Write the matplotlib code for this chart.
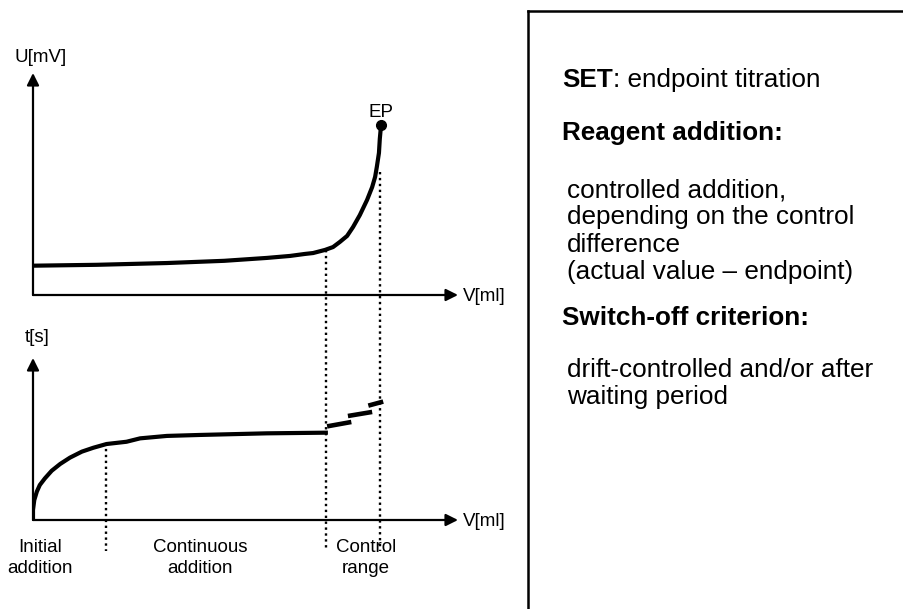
import matplotlib
matplotlib.use('Agg')
import matplotlib.pyplot as plt
from matplotlib.lines import Line2D

plt.rcParams['font.family'] = ['Liberation Sans', 'DejaVu Sans']

# titration curve U = f(V) (arbitrary units)
v_pot = [0.0, 1.5, 3.15, 4.5, 5.5, 6.05, 6.4, 6.59, 6.87, 7.06, 7.22, 7.39,
         7.53, 7.69, 7.86, 7.98, 8.05, 8.09, 8.14, 8.16, 8.19]
u_pot = [13.2, 13.6, 14.4, 15.4, 16.7, 17.6, 18.5, 18.9, 20.3, 21.6, 23.9, 26.6,
         30.6, 36.0, 42.8, 48.6, 53.2, 57.7, 64.0, 70.3, 76.6]

# time per dosing step t = f(V)
v_time = [0.0, 0.0, 0.03, 0.09, 0.16, 0.28, 0.44, 0.64, 0.87, 1.15, 1.42, 1.73,
          2.2, 2.52, 3.15, 3.93, 5.5, 6.89]
t_time = [0.0, 6.2, 12.3, 17.5, 21.6, 25.7, 30.4, 34.6, 38.5, 42.2, 44.6, 46.9,
          48.3, 50.4, 51.9, 52.5, 53.5, 53.9]

# control range: single dosing steps
step_v = [(6.92, 7.49), (7.41, 7.98), (7.89, 8.24)]
step_t = [(57.8, 60.5), (64.2, 66.7), (70.6, 73.1)]

ep_v, ep_u = 8.19, 76.6
phase_bounds = [1.72, 6.9, 8.17]
phase_names = ['Initial\naddition', 'Continuous\naddition', 'Control\nrange']

W, H = 904, 609


def px(x, y):
    return x / W, 1 - y / H


fig = plt.figure(figsize=(W / 100, H / 100), dpi=100)

ax1 = fig.add_axes([33 / W, 1 - 295 / H, 425 / W, 222 / H])
ax2 = fig.add_axes([33 / W, 1 - 520 / H, 425 / W, 162 / H])

for ax in (ax1, ax2):
    ax.set_xlim(0, 10)
    ax.set_ylim(0, 100)
    ax.axis('off')
    arrow = dict(arrowstyle='-|>', lw=1.6, color='black', mutation_scale=18,
                 shrinkA=0, shrinkB=0)
    ax.annotate('', xy=(1, 0), xytext=(0, 0), xycoords='axes fraction',
                arrowprops=arrow, annotation_clip=False)
    ax.annotate('', xy=(0, 1), xytext=(0, 0), xycoords='axes fraction',
                arrowprops=arrow, annotation_clip=False)

# top: potential curve
ax1.plot(v_pot, u_pot, color='black', lw=3, solid_capstyle='round',
         solid_joinstyle='round')
ax1.plot(ep_v, ep_u, 'o', color='black', ms=7)
ax1.text(ep_v, ep_u + 2, 'EP', ha='center', va='bottom', fontsize=13.5)

# bottom: dosing time
ax2.plot(v_time, t_time, color='black', lw=3, solid_joinstyle='round')
for sv, st in zip(step_v, step_t):
    ax2.plot(sv, st, color='black', lw=3.3, solid_capstyle='butt')

# dotted phase boundaries (figure level, they cross both panels)
dot_spans = [(443, 551), (250, 551), (172, 551)]
for vb, (y0, y1) in zip(phase_bounds, dot_spans):
    xf = (33 + vb * 42.5) / W
    fig.add_artist(Line2D([xf, xf], [1 - y0 / H, 1 - y1 / H], color='black',
                          lw=1.7, ls=(0, (1, 1.5))))

fs = 13.5
fig.text(*px(15, 57), 'U[mV]', ha='left', va='center', fontsize=fs)
fig.text(*px(25, 338), 't[s]', ha='left', va='center', fontsize=fs)
fig.text(*px(463, 296), 'V[ml]', ha='left', va='center', fontsize=fs)
fig.text(*px(463, 521), 'V[ml]', ha='left', va='center', fontsize=fs)

label_x = [40, 200, 366]
for lx, name in zip(label_x, phase_names):
    fig.text(*px(lx, 558), name, ha='center', va='center', fontsize=fs,
             linespacing=1.25)

# right panel box
fig.add_artist(Line2D([528 / W, 528 / W], [1 - 11 / H, 0], color='black', lw=1.8))
fig.add_artist(Line2D([528 / W, 1], [1 - 11 / H, 1 - 11 / H], color='black', lw=1.8))

fs2 = 18.8
tx = 562
set_txt = fig.text(*px(tx, 80), 'SET', ha='left', va='center', fontsize=fs2,
                   weight='bold')
fig.canvas.draw()
bb = set_txt.get_window_extent(renderer=fig.canvas.get_renderer())
fig.text(bb.x1 / W, 1 - 80 / H, ': endpoint titration', ha='left', va='center',
         fontsize=fs2)
fig.text(*px(tx, 133), 'Reagent addition:', ha='left', va='center',
         fontsize=fs2, weight='bold')
body1 = ['controlled addition,', 'depending on the control', 'difference',
         '(actual value \u2013 endpoint)']
for i, line in enumerate(body1):
    fig.text(*px(tx + 5, 190 + i * 27.3), line, ha='left', va='center', fontsize=fs2)
fig.text(*px(tx, 318), 'Switch-off criterion:', ha='left', va='center',
         fontsize=fs2, weight='bold')
body2 = ['drift-controlled and/or after', 'waiting period']
for i, line in enumerate(body2):
    fig.text(*px(tx + 5, 370 + i * 27.3), line, ha='left', va='center', fontsize=fs2)

fig.savefig('out.png', dpi=100)
